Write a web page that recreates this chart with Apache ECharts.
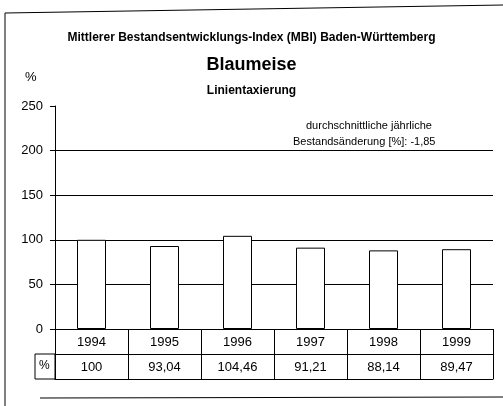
<!DOCTYPE html>
<html>
<head>
<meta charset="utf-8">
<script src="https://cdn.jsdelivr.net/npm/echarts@6/dist/echarts.min.js"></script>
<style>
html, body { margin: 0; padding: 0; background: #fff; }
#chart { width: 503px; height: 406px; }
</style>
</head>
<body>
<div id="chart"></div>
<script>
// Blaumeise, MBI Baden-Württemberg
var years = ['1994', '1995', '1996', '1997', '1998', '1999'];
var indexValues = [100, 93.04, 104.46, 91.21, 88.14, 89.47];
var yTicks = [0, 50, 100, 150, 200, 250];

var font = "'Liberation Sans', Arial, sans-serif";
var chart = echarts.init(document.getElementById('chart'));

function fmt(v) {
    return String(v).replace('.', ',');
}

var option = {
    backgroundColor: '#fff',
    animation: false,
    textStyle: { fontFamily: font, color: '#000' },
    title: [
        { text: 'Mittlerer Bestandsentwicklungs-Index (MBI) Baden-Württemberg', left: 'center', top: 27,
          textStyle: { fontSize: 12, fontWeight: 'bold', color: '#000', fontFamily: font } },
        { text: 'Blaumeise', left: 'center', top: 51,
          textStyle: { fontSize: 18, fontWeight: 'bold', color: '#000', fontFamily: font } },
        { text: 'Linientaxierung', left: 'center', top: 80,
          textStyle: { fontSize: 12, fontWeight: 'bold', color: '#000', fontFamily: font } }
    ],
    grid: { left: 55, right: 10, top: 106, bottom: 77 },
    xAxis: [
        {
            type: 'category', data: years, position: 'bottom',
            axisLine: { show: true, lineStyle: { color: '#000', width: 1 } },
            axisTick: { show: true, length: 50, interval: 0, lineStyle: { color: '#000' } },
            axisLabel: { margin: 7, fontSize: 13, color: '#000', fontFamily: font, interval: 0 }
        },
        {
            type: 'category', data: indexValues.map(fmt), position: 'bottom', offset: 25,
            axisLine: { show: true, lineStyle: { color: '#000', width: 1 } },
            axisTick: { show: false },
            axisLabel: { margin: 7, fontSize: 13, color: '#000', fontFamily: font, interval: 0 }
        },
        {
            type: 'category', data: years, position: 'bottom', offset: 50,
            axisLine: { show: true, lineStyle: { color: '#000', width: 1 } },
            axisTick: { show: false },
            axisLabel: { show: false }
        }
    ],
    yAxis: {
        type: 'value', min: yTicks[0], max: yTicks[yTicks.length - 1], interval: 50,
        axisLine: { show: true, lineStyle: { color: '#000', width: 1 } },
        axisTick: { show: true, length: 5, lineStyle: { color: '#000' } },
        axisLabel: { margin: 12, fontSize: 13, color: '#000', fontFamily: font },
        splitLine: { show: true, lineStyle: { color: ['#000', '#000', '#000', '#000', '#000', 'rgba(0,0,0,0)'], width: 1 } }
    },
    graphic: [
        { type: 'text', left: 25, top: 71, style: { text: '%', fontSize: 13, fill: '#000', fontFamily: font } },
        { type: 'text', left: 306, top: 120, style: { text: 'durchschnittliche jährliche', fontSize: 11, fill: '#000', fontFamily: font } },
        { type: 'text', left: 293, top: 136, style: { text: 'Bestandsänderung [%]: -1,85', fontSize: 11, fill: '#000', fontFamily: font } },
        { type: 'rect', shape: { x: 35, y: 354, width: 20, height: 25 }, style: { fill: 'none', stroke: '#000', lineWidth: 1 } },
        { type: 'text', left: 39, top: 360, style: { text: '%', fontSize: 12, fill: '#000', fontFamily: font } },
        { type: 'line', shape: { x1: 5, y1: 13, x2: 503, y2: 5 }, style: { stroke: '#000', lineWidth: 1 } },
        { type: 'line', shape: { x1: 5, y1: 13, x2: 5, y2: 406 }, style: { stroke: '#000', lineWidth: 1 } },
        { type: 'line', shape: { x1: 40, y1: 398, x2: 503, y2: 397 }, style: { stroke: '#000', lineWidth: 1 } }
    ],
    series: [
        {
            type: 'bar', data: indexValues, xAxisIndex: 0, barWidth: 29,
            itemStyle: { color: '#fff', borderColor: '#000', borderWidth: 1 }
        }
    ]
};

chart.setOption(option);
</script>
</body>
</html>
